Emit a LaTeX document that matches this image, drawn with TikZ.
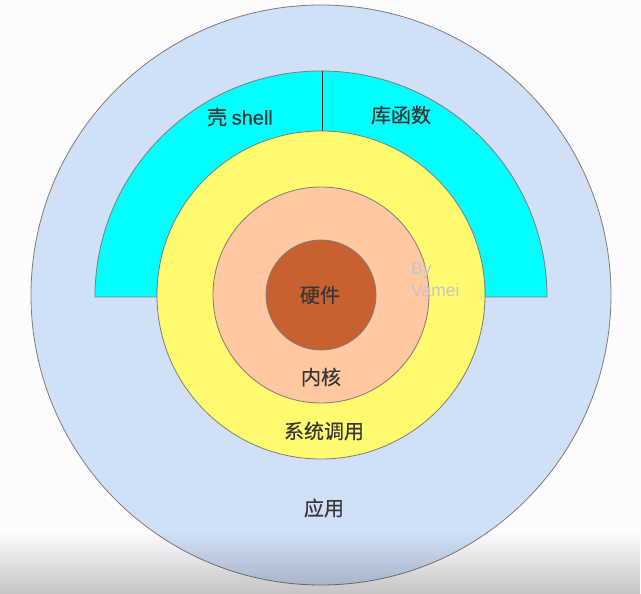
\documentclass[tikz,border=0pt]{standalone}
\usepackage{fontspec}
\setmainfont{Noto Sans CJK SC}[FakeBold=0.4]
\newfontfamily\wmfont{Liberation Sans}
\newfontfamily\latfont{Liberation Sans}[FakeBold=0.3]
\usetikzlibrary{fadings}
\tikzfading[name=fadedown, top color=transparent!100, bottom color=transparent!0]
\definecolor{bgwhite}{RGB}{253,251,253}
\definecolor{appblue}{RGB}{208,224,246}
\definecolor{shellcyan}{RGB}{0,255,255}
\definecolor{sysyellow}{RGB}{255,250,110}
\definecolor{kernpeach}{RGB}{255,200,160}
\definecolor{hwbrown}{RGB}{201,96,48}
\definecolor{edgegray}{RGB}{125,125,125}
\definecolor{txtgray}{RGB}{55,55,55}
\definecolor{wmgray}{RGB}{200,196,204}
\begin{document}
\begin{tikzpicture}[x=1pt,y=1pt,
  ring/.style={circle, draw=edgegray, line width=0.8pt, inner sep=0pt, outer sep=0pt},
  lbl/.style={text=txtgray, font=\fontsize{20}{24}\selectfont, inner sep=0pt},
  wm/.style={text=wmgray, font=\wmfont\fontsize{17.5}{22}\selectfont, align=left, inner sep=0pt, anchor=north west}]
\useasboundingbox (0,0) rectangle (641,594);
\fill[bgwhite] (0,0) rectangle (641,594);
\coordinate (C) at (321,299);
% application ring
\node[ring, fill=appblue, minimum size=580pt] (app) at (C) {};
% shell / library half ring
\draw[draw=edgegray, line width=0.8pt, fill=shellcyan]
  (95,297) arc[start angle=180, end angle=0, radius=226] -- (485,297)
  arc[start angle=0, end angle=180, radius=164] -- cycle;
\coordinate (dtop) at (322,523);
\coordinate (dbot) at (322,461);
\draw[black!85, line width=0.9pt] (dtop) -- (dbot);
% system call ring
\node[ring, fill=sysyellow, minimum size=328pt] (sys) at (C) {};
% kernel
\node[ring, fill=kernpeach, minimum size=216pt] (kern) at (C) {};
% hardware
\node[ring, fill=hwbrown, minimum size=110pt] (hw) at (C) {};
% labels
\node[lbl] (lshell) at (240,477) {壳 {\latfont shell}};
\node[lbl] (llib) at (401,479) {库函数};
\node[lbl] (lhw) at (320,299) {硬件};
\node[lbl] (lkern) at (321,217) {内核};
\node[lbl] (lsys) at (324,163) {系统调用};
\node[lbl] (lapp) at (324,86) {应用};
\node[wm] (wmark) at (411,332) {By\\Vamei};
% bottom shadow of the screenshot
\fill[black, fill opacity=0.22, path fading=fadedown] (0,0) rectangle (641,62);
\end{tikzpicture}
\end{document}
